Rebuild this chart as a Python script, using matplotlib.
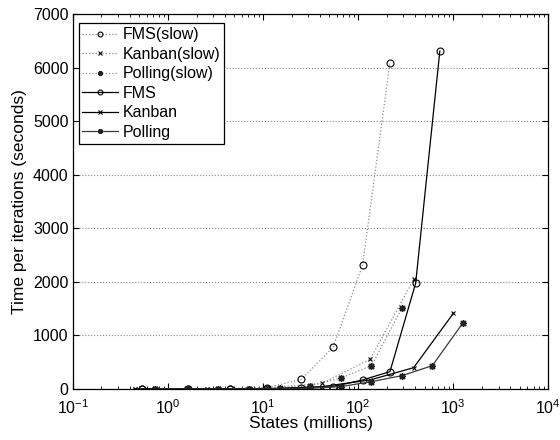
import matplotlib
matplotlib.use("Agg")
import matplotlib.pyplot as plt
from matplotlib.ticker import LogLocator, NullFormatter, MultipleLocator

plt.rcParams['font.family'] = ['Liberation Sans', 'DejaVu Sans']

# State-space sizes (millions) and time per iteration (seconds)
fms_states = [0.538, 1.64, 4.46, 11.06, 25.4, 54.7, 111.4, 216.4, 403.3, 724.3]
fms_slow_time = [0.5, 2, 6, 25, 180, 780, 2310, 6090]
fms_time = [0.2, 0.6, 2, 6, 13, 43, 168, 323, 1975, 6310]

kanban_states = [0.454, 2.55, 11.26, 41.6, 133.9, 384.4, 1005.9]
kanban_slow_time = [0.3, 3, 20, 106, 553, 2047]
kanban_time = [0.1, 1, 5, 43, 168, 398, 1413]

polling_states = [0.737, 1.573, 3.342, 7.078, 14.94, 31.46, 66.06, 138.4, 289.4, 604.0, 1258.3]
polling_slow_time = [0.3, 0.8, 2, 5, 12, 56, 205, 435, 1510]
polling_time = [0.1, 0.3, 0.8, 2, 5, 15, 44, 137, 248, 435, 1226]

asterisk = (8, 2, 0)
slow_color = '#8c8c8c'

fig = plt.figure(figsize=(5.6, 4.4), dpi=100)
ax = fig.add_axes([0.130, 0.116, 0.849, 0.852])

n = len(fms_slow_time)
ax.plot(fms_states[:n], fms_slow_time, linestyle=':', color=slow_color, lw=0.9,
        marker='o', ms=5, mfc='none', mec='black', mew=0.8, label='FMS(slow)')
n = len(kanban_slow_time)
ax.plot(kanban_states[:n], kanban_slow_time, linestyle=':', color=slow_color, lw=0.9,
        marker='x', ms=3.5, mec='black', mew=0.8, label='Kanban(slow)')
n = len(polling_slow_time)
ax.plot(polling_states[:n], polling_slow_time, linestyle=':', color=slow_color, lw=0.9,
        marker=asterisk, ms=5, mec='#222222', mew=1.0, label='Polling(slow)')

ax.plot(fms_states, fms_time, linestyle='-', color='black', lw=0.9,
        marker='o', ms=5, mfc='none', mec='black', mew=0.8, label='FMS')
ax.plot(kanban_states, kanban_time, linestyle='-', color='black', lw=0.9,
        marker='x', ms=3.5, mec='black', mew=0.8, label='Kanban')
ax.plot(polling_states, polling_time, linestyle='-', color='#3a3a3a', lw=0.9,
        marker=asterisk, ms=5, mec='#222222', mew=1.0, label='Polling')

ax.set_xscale('log')
ax.set_xlim(0.1, 1e4)
ax.set_ylim(0, 7000)
ax.yaxis.set_major_locator(MultipleLocator(1000))
ax.xaxis.set_major_locator(LogLocator(base=10, numticks=10))
ax.xaxis.set_minor_locator(LogLocator(base=10, subs=range(2, 10), numticks=20))
ax.xaxis.set_minor_formatter(NullFormatter())

ax.grid(True, axis='y', which='major', linestyle=':', color='#888888', lw=0.8)
ax.tick_params(which='both', direction='in', top=True, right=True, labelsize=11.5)
ax.tick_params(axis='x', which='major', pad=7)
ax.tick_params(axis='y', which='major', pad=3)
ax.tick_params(which='major', length=4)
ax.tick_params(which='minor', length=2)
for s in ax.spines.values():
    s.set_linewidth(0.9)

ax.set_xlabel('States (millions)', fontsize=12.5, labelpad=-1)
ax.set_ylabel('Time per iterations (seconds)', fontsize=12.5, labelpad=4)

leg = ax.legend(loc='upper left', bbox_to_anchor=(0.012, 0.975), fontsize=11.5,
                frameon=True, fancybox=False, edgecolor='black', framealpha=1,
                handlelength=2.2, handletextpad=0.3, labelspacing=0.28,
                borderpad=0.25, borderaxespad=0, markerscale=0.7)
leg.get_frame().set_linewidth(0.9)

fig.savefig('out.png', dpi=100)
